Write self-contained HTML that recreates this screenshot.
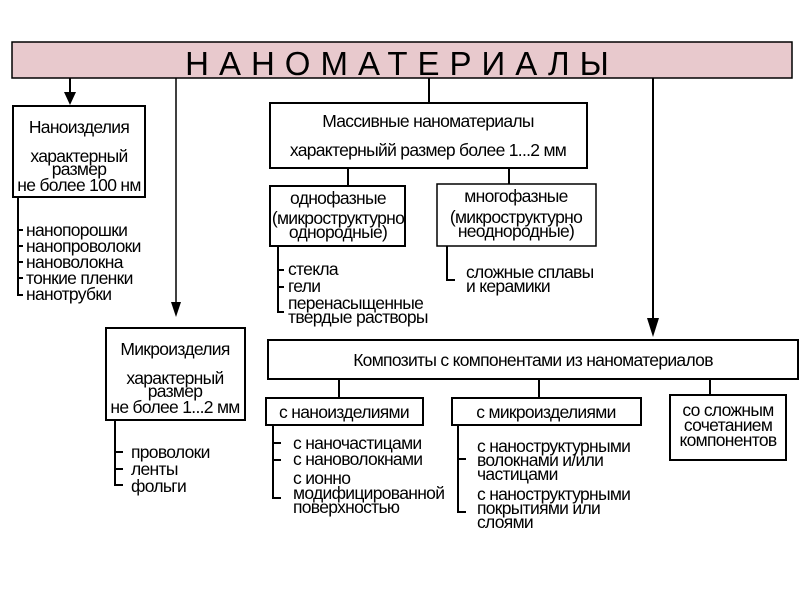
<!DOCTYPE html>
<html><head><meta charset="utf-8"><style>
html,body{margin:0;padding:0;background:#fff}
svg text{font-family:"Liberation Sans",Arial,sans-serif;font-size:17.5px;letter-spacing:-0.7px;fill:#000}
</style></head><body>
<svg width="800" height="600" viewBox="0 0 800 600" xmlns="http://www.w3.org/2000/svg">
<g stroke="#000" stroke-width="2" fill="none">
<rect x="12" y="42" width="780" height="36" fill="#e8c9cd" stroke-width="1.5"/>
<line x1="70" y1="78" x2="70" y2="95"/>
<line x1="176" y1="78" x2="176" y2="305" stroke-width="1.5"/>
<line x1="653" y1="78" x2="653" y2="322"/>
<line x1="429" y1="78" x2="429" y2="103"/>
<rect x="13" y="106" width="132" height="91" fill="#fff"/>
<rect x="270" y="103" width="317" height="65" fill="#fff"/>
<line x1="348" y1="168" x2="348" y2="186"/>
<line x1="509" y1="168" x2="509" y2="184"/>
<rect x="270" y="186" width="135" height="60" fill="#fff"/>
<rect x="437" y="184" width="159" height="62" fill="#fff" stroke-width="1.5"/>
<rect x="106" y="328" width="139" height="92" fill="#fff"/>
<rect x="268" y="340" width="530" height="39" fill="#fff"/>
<line x1="339" y1="379" x2="339" y2="398"/>
<line x1="539" y1="379" x2="539" y2="398"/>
<line x1="710" y1="379" x2="710" y2="395"/>
<rect x="266" y="398" width="157" height="27" fill="#fff"/>
<rect x="452" y="398" width="189" height="27" fill="#fff"/>
<rect x="670" y="395" width="116" height="65" fill="#fff"/>
<path d="M18,197 V295 H23 M18,230 H23 M18,246 H23 M18,262 H23 M18,278 H23"/>
<path d="M278,246 V312 H284 M278,270 H284 M278,287 H284"/>
<path d="M447,246 V280 H455"/>
<path d="M115,420 V485 H123 M115,452 H123 M115,469 H123"/>
<path d="M273,425 V498 H281 M273,443 H281 M273,460 H281"/>
<path d="M458,425 V512 H466 M458,459 H466"/>
</g>
<g fill="#000">
<polygon points="64,92 76,92 70,105"/>
<polygon points="171,302 181,302 176,317"/>
<polygon points="647,318 659,318 653,337"/>
</g>
<text x="402" y="75" text-anchor="middle" style="font-size:33px;letter-spacing:10px">НАНОМАТЕРИАЛЫ</text>
<g text-anchor="middle">
<text x="79" y="133">Наноизделия</text>
<text x="79" y="162">характерный</text>
<text x="79" y="175">размер</text>
<text x="79" y="191">не более 100 нм</text>
<text x="428" y="127">Массивные наноматериалы</text>
<text x="428" y="156">характерныйй размер более 1...2 мм</text>
<text x="338" y="204">однофазные</text>
<text x="338" y="224">(микроструктурно</text>
<text x="338" y="238">однородные)</text>
<text x="516" y="202">многофазные</text>
<text x="516" y="223">(микроструктурно</text>
<text x="516" y="237">неоднородные)</text>
<text x="175" y="355">Микроизделия</text>
<text x="175" y="384">характерный</text>
<text x="175" y="397">размер</text>
<text x="175" y="413">не более 1...2 мм</text>
<text x="533" y="366">Композиты с компонентами из наноматериалов</text>
<text x="344" y="418">с наноизделиями</text>
<text x="546" y="418">с микроизделиями</text>
<text x="728" y="416">со сложным</text>
<text x="728" y="431">сочетанием</text>
<text x="728" y="446">компонентов</text>
</g>
<text x="26" y="236">нанопорошки</text>
<text x="26" y="252">нанопроволоки</text>
<text x="26" y="268">нановолокна</text>
<text x="26" y="284">тонкие пленки</text>
<text x="26" y="300">нанотрубки</text>
<text x="288" y="275">стекла</text>
<text x="288" y="292">гели</text>
<text x="288" y="309">перенасыщенные</text>
<text x="288" y="323">твердые растворы</text>
<text x="466" y="278">сложные сплавы</text>
<text x="466" y="292">и керамики</text>
<text x="131" y="458">проволоки</text>
<text x="131" y="475">ленты</text>
<text x="131" y="492">фольги</text>
<text x="293" y="449">с наночастицами</text>
<text x="293" y="465">с нановолокнами</text>
<text x="293" y="484">с ионно</text>
<text x="293" y="499">модифицированной</text>
<text x="293" y="513">поверхностью</text>
<text x="477" y="452">с наноструктурными</text>
<text x="477" y="466">волокнами и/или</text>
<text x="477" y="480">частицами</text>
<text x="477" y="500">с наноструктурными</text>
<text x="477" y="514">покрытиями или</text>
<text x="477" y="528">слоями</text>
</svg>
</body></html>
